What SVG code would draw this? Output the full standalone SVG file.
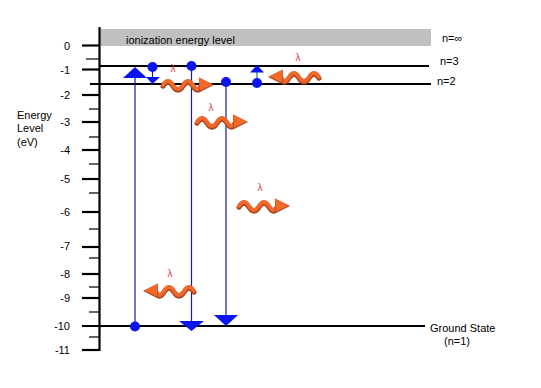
<svg xmlns="http://www.w3.org/2000/svg" xmlns:xlink="http://www.w3.org/1999/xlink" width="541" height="388" viewBox="0 0 541 388">
<style>
  .t { font-family: "Liberation Sans", Arial, sans-serif; font-size: 11px; fill: #000; }
  .num { font-family: "Liberation Sans", Arial, sans-serif; font-size: 11px; fill: #000; text-anchor: end; }
  .lam { font-family: "Liberation Sans", Arial, sans-serif; font-size: 10px; fill: #d8404e; text-anchor: middle; }
  .major { stroke: #000; stroke-width: 2.2; }
  .minor { stroke: #000; stroke-width: 1.2; }
  .level { stroke: #000; stroke-width: 2.2; }
  .tr { stroke: #1a1aa0; stroke-width: 1.2; fill: none; }
  .bl { fill: #0a14f0; }
</style>
<defs>
  <g id="photon">
    <path d="M1,1.2 q5,-8 10,0 t10,0 t10,0 t8,0" fill="none" stroke="#a8441c" stroke-width="5" stroke-linecap="round"/>
    <path d="M1,0 q5,-8 10,0 t10,0 t10,0 t8,0" fill="none" stroke="#f0682c" stroke-width="4" stroke-linecap="round"/>
    <polygon points="37,-7.5 52,0 37,7.5" fill="#b0481e"/>
    <polygon points="37,-7.5 51,-0.5 38,5.5" fill="#f26a2a"/>
  </g>
</defs>

<g id="ionization">
  <rect x="100" y="29" width="331" height="17" fill="#c0c0c0"/>
  <text class="t" x="126" y="44">ionization energy level</text>
</g>

<g id="axis">
  <line x1="99.5" y1="27" x2="99.5" y2="351" stroke="#000" stroke-width="2.2"/>
  <line class="major" x1="82" y1="45.5" x2="99" y2="45.5"/>
  <line class="major" x1="82" y1="69.5" x2="99" y2="69.5"/>
  <line class="major" x1="82" y1="95" x2="99" y2="95"/>
  <line class="major" x1="82" y1="122" x2="99" y2="122"/>
  <line class="major" x1="82" y1="150" x2="99" y2="150"/>
  <line class="major" x1="82" y1="179" x2="99" y2="179"/>
  <line class="major" x1="82" y1="212" x2="99" y2="212"/>
  <line class="major" x1="82" y1="247" x2="99" y2="247"/>
  <line class="major" x1="82" y1="274" x2="99" y2="274"/>
  <line class="major" x1="82" y1="298" x2="99" y2="298"/>
  <line class="major" x1="82" y1="350" x2="99" y2="350"/>
  <line class="minor" x1="86" y1="59" x2="99" y2="59"/>
  <line class="minor" x1="89" y1="109" x2="99" y2="109"/>
  <line class="minor" x1="89" y1="137" x2="99" y2="137"/>
  <line class="minor" x1="89" y1="164" x2="99" y2="164"/>
  <line class="minor" x1="89" y1="193" x2="99" y2="193"/>
  <line class="minor" x1="89" y1="229" x2="99" y2="229"/>
  <line class="minor" x1="89" y1="258" x2="99" y2="258"/>
  <line class="minor" x1="89" y1="287" x2="99" y2="287"/>
  <line class="minor" x1="89" y1="312" x2="99" y2="312"/>
  <line class="minor" x1="89" y1="337" x2="99" y2="337"/>
  <text class="num" x="70" y="50">0</text>
  <text class="num" x="70" y="74">-1</text>
  <text class="num" x="70" y="99">-2</text>
  <text class="num" x="70" y="126">-3</text>
  <text class="num" x="70" y="154">-4</text>
  <text class="num" x="70" y="183">-5</text>
  <text class="num" x="70" y="216">-6</text>
  <text class="num" x="70" y="250">-7</text>
  <text class="num" x="70" y="278">-8</text>
  <text class="num" x="70" y="302">-9</text>
  <text class="num" x="70" y="330">-10</text>
  <text class="num" x="70" y="354">-11</text>
  <text class="t" x="17" y="119">Energy</text>
  <text class="t" x="17" y="132">Level</text>
  <text class="t" x="17" y="146">(eV)</text>
</g>

<g id="levels">
  <line class="level" x1="100" y1="66" x2="429" y2="66"/>
  <line class="level" x1="90" y1="84" x2="431" y2="84"/>
  <line class="level" x1="82" y1="326" x2="425" y2="326"/>
  <text class="t" x="442" y="42">n=∞</text>
  <text class="t" x="440" y="65">n=3</text>
  <text class="t" x="437" y="85">n=2</text>
  <text class="t" x="430" y="332">Ground State</text>
  <text class="t" x="444" y="345">(n=1)</text>
</g>

<g id="transitions">
  <line class="tr" x1="135" y1="76" x2="135" y2="326"/>
  <polygon class="bl" points="123,78 147,78 135,67"/>
  <circle class="bl" cx="135" cy="326.5" r="5"/>

  <line class="tr" x1="152.5" y1="67" x2="152.5" y2="78"/>
  <circle class="bl" cx="152.5" cy="67" r="5"/>
  <polygon class="bl" points="146,77 160,77 152.5,84"/>

  <line class="tr" x1="191.5" y1="66" x2="191.5" y2="322"/>
  <circle class="bl" cx="191.5" cy="66" r="5"/>
  <polygon class="bl" points="179,321 204,321 191.5,331"/>

  <line class="tr" x1="226" y1="82" x2="226" y2="316"/>
  <circle class="bl" cx="226" cy="82" r="5"/>
  <polygon class="bl" points="214,315 238,315 226,326"/>

  <line class="tr" x1="257" y1="70" x2="257" y2="83" style="stroke:#1870b0"/>
  <circle class="bl" cx="257" cy="83" r="5"/>
  <polygon class="bl" points="250,72.5 264,72.5 257,65"/>
</g>

<g id="photons">
  <use xlink:href="#photon" transform="translate(162,85)"/>
  <text class="lam" x="173" y="72">λ</text>
  <use xlink:href="#photon" transform="translate(196,122)"/>
  <text class="lam" x="211" y="111">λ</text>
  <use xlink:href="#photon" transform="translate(238,206)"/>
  <text class="lam" x="260" y="191">λ</text>
  <use xlink:href="#photon" transform="translate(195,291) scale(-1,1)"/>
  <text class="lam" x="170" y="277">λ</text>
  <use xlink:href="#photon" transform="translate(320,77) scale(-1,1)"/>
  <text class="lam" x="298" y="61">λ</text>
</g>
</svg>
